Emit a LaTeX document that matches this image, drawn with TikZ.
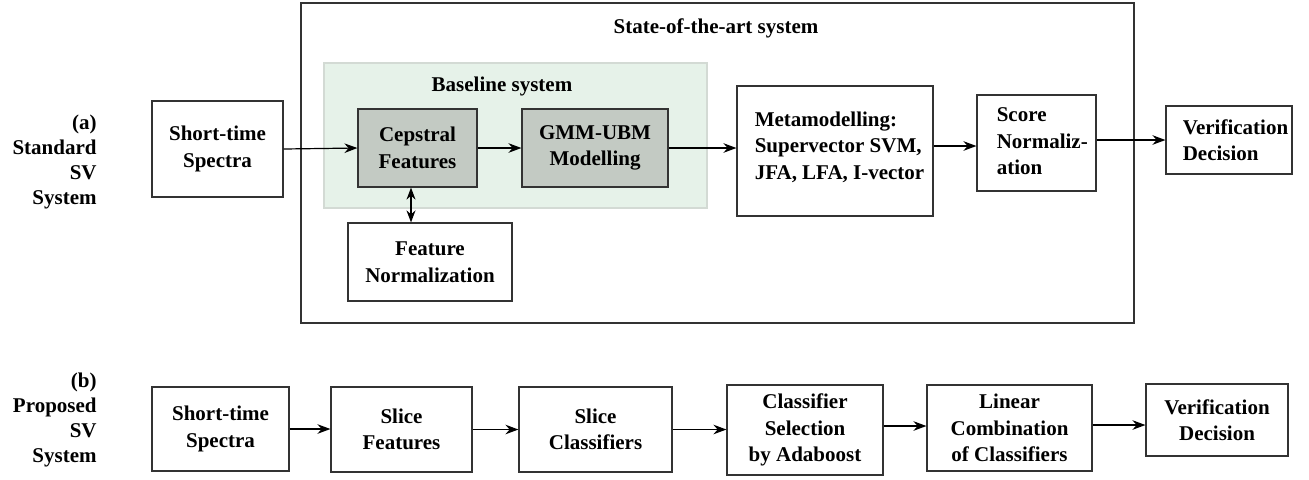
\documentclass[tikz,border=0pt]{standalone}
\usepackage{fontspec}
\setmainfont{Liberation Serif}
\usetikzlibrary{arrows.meta}
\definecolor{edge}{HTML}{333333}
\definecolor{mint}{HTML}{E6F2E9}
\definecolor{mintline}{HTML}{D3DAD4}
\definecolor{sage}{HTML}{C3CAC3}
\tikzset{
  txt/.style={font=\bfseries\fontsize{10.5}{13.25}\selectfont, align=center, inner sep=0pt},
  box/.style={txt, draw=edge, line width=0.6pt, fill=white},
  greybox/.style={box, fill=sage},
  lefttxt/.style={txt, align=left, anchor=west},
  lbl/.style={font=\bfseries\fontsize{10.5}{12.5}\selectfont, align=right, inner sep=0pt, anchor=east},
  flow/.style={-{Stealth[length=6.5pt,width=4.8pt]}, line width=0.6pt, black},
  both/.style={{Stealth[length=6pt,width=4.5pt]}-{Stealth[length=6pt,width=4.5pt]}, line width=0.6pt, black}
}
\begin{document}
\begin{tikzpicture}[x=0.5pt, y=-0.5pt]
\useasboundingbox (0,0) rectangle (1309,479);

% ---------- (a) standard system ----------
\draw[edge, line width=0.6pt] (301,3) rectangle (1134,323);
\node[txt] (sotatitle) at (716,28) {State-of-the-art system};

\draw[mintline, fill=mint, line width=0.6pt] (324,63) rectangle (707,208);
\node[txt] (basetitle) at (502,86) {Baseline system};

\node[lbl] (labela) at (97,162) {(a)\\Standard\\SV\\System};

\node[box, minimum width=65.5pt, minimum height=48pt] (sta) at (217.5,149) {Short-time\\Spectra};
\node[greybox, minimum width=59.5pt, minimum height=39pt] (cep) at (417.5,148) {Cepstral\\Features};
\node[greybox, minimum width=73pt, minimum height=39pt] (gmm) at (595,148) {GMM-UBM\\Modelling};
\node[box, minimum width=82pt, minimum height=39pt] (fnorm) at (430,262) {Feature\\Normalization};

% boxes whose text is set flush left
\node[box, minimum width=98pt, minimum height=65pt] (meta) at (835,151) {};
\node[lefttxt] (metatext) at ([xshift=9pt, yshift=2pt]meta.west) {Metamodelling:\\Supervector SVM,\\JFA, LFA, I-vector};
\node[box, minimum width=59.5pt, minimum height=48pt] (score) at (1036.5,143) {};
\node[lefttxt] (scoretext) at ([xshift=10pt, yshift=0.7pt]score.west) {Score\\Normaliz-\\ation};
\node[box, minimum width=63pt, minimum height=34pt] (vda) at (1229,140) {};
\node[lefttxt] (vdatext) at ([xshift=8.5pt]vda.west) {Verification\\Decision};

\draw[flow] (sta.east) -- (cep.west);
\draw[flow] (cep.east) -- (gmm.west);
\draw[flow] (gmm.east) -- (gmm.east -| meta.west);
\draw[flow] (meta.east |- 0,146) -- (score.west |- 0,146);
\draw[flow] (score.east |- vda.west) -- (vda.west);
\draw[both] ([xshift=-3.25pt]cep.south) -- ([xshift=-3.25pt]cep.south |- fnorm.north);

% ---------- (b) proposed system ----------
\node[lbl] (labelb) at (97,420) {(b)\\Proposed\\SV\\System};

\node[box, minimum width=68.5pt, minimum height=42pt] (stb) at (220.5,429) {Short-time\\Spectra};
\node[box, minimum width=70.5pt, minimum height=42.5pt] (sf) at (401.5,429.5) {Slice\\Features};
\node[box, minimum width=76.5pt, minimum height=42.5pt] (sc) at (595.5,429.5) {Slice\\Classifiers};
\node[box, minimum width=78pt, minimum height=45pt] (cs) at (805,430) {Classifier\\Selection\\by Adaboost};
\node[box, minimum width=82.5pt, minimum height=43pt] (lc) at (1009.5,428) {Linear\\Combination\\of Classifiers};
\node[box, minimum width=71pt, minimum height=36pt] (vdb) at (1217,420) {Verification\\Decision};

\draw[flow] (stb.east) -- (stb.east -| sf.west);
\draw[flow] (sf.east) -- (sf.east -| sc.west);
\draw[flow] (sc.east) -- (sc.east -| cs.west);
\draw[flow] (cs.east |- 0,426) -- (lc.west |- 0,426);
\draw[flow] (lc.east |- 0,425) -- (vdb.west |- 0,425);
\end{tikzpicture}
\end{document}
